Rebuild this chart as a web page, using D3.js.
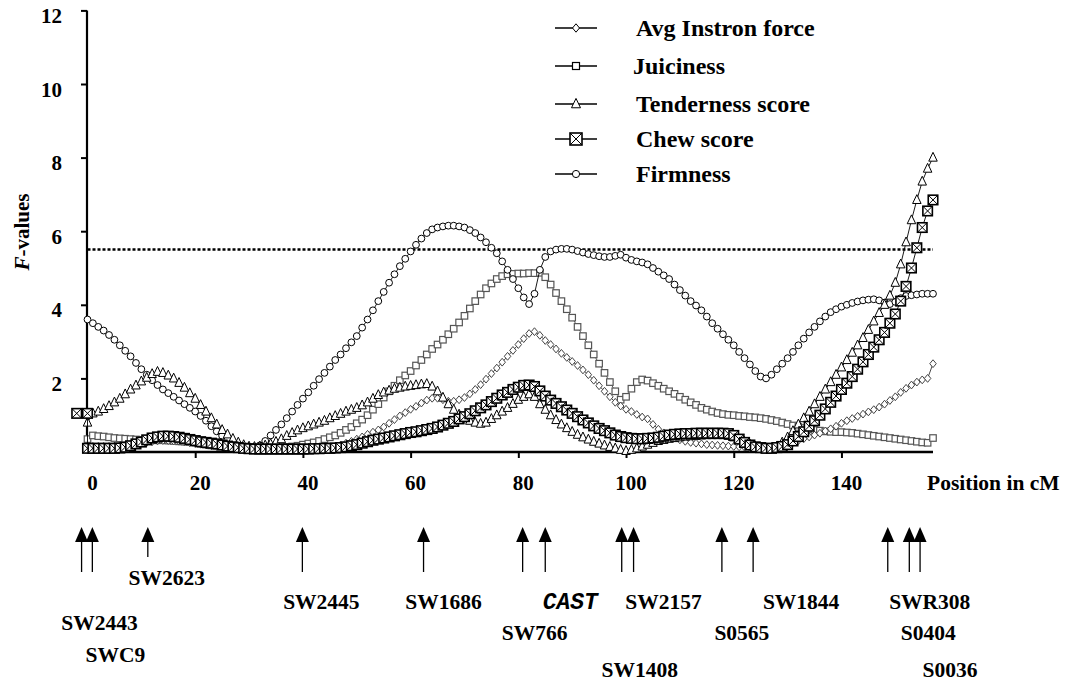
<!DOCTYPE html>
<html>
<head>
<meta charset="utf-8">
<script src="https://cdn.jsdelivr.net/npm/d3@7"></script>
<style>
  html, body { margin: 0; padding: 0; background: #fff; }
  svg text { font-family: "Liberation Serif", "Times New Roman", serif; font-weight: bold; fill: #000; }
</style>
</head>
<body>
<svg id="chart" width="1065" height="681"></svg>
<script>
// ---------------- DATA ----------------
const xTicks = [20, 40, 60, 80, 100, 120, 140];
const xTickLabels = ["0", "20", "40", "60", "80", "100", "120", "140"];
const yTicks = [2, 4, 6, 8, 10, 12];
const threshold = 5.5;

const seriesNames = ["Avg Instron force", "Juiciness", "Tenderness score", "Chew score", "Firmness"];

// values at 1 cM steps, 0 … 157 cM
const avgInstron = [0.15,0.15,0.15,0.15,0.15,0.16,0.17,0.18,0.20,0.22,0.24,0.26,0.28,0.30,0.31,0.31,0.30,0.29,0.27,0.25,
0.23,0.21,0.19,0.17,0.15,0.13,0.11,0.10,0.09,0.08,0.07,0.06,0.06,0.05,0.05,0.05,0.05,0.05,0.05,0.05,
0.05,0.06,0.07,0.08,0.10,0.12,0.15,0.19,0.24,0.29,0.35,0.41,0.48,0.54,0.60,0.68,0.78,0.88,0.98,1.07,
1.16,1.24,1.33,1.41,1.46,1.46,1.42,1.38,1.38,1.42,1.48,1.58,1.70,1.83,1.98,2.13,2.28,2.44,2.60,2.76,
2.92,3.08,3.22,3.27,3.17,3.03,2.92,2.80,2.68,2.57,2.46,2.35,2.23,2.10,1.95,1.80,1.65,1.50,1.35,1.25,
1.16,1.10,1.02,0.95,0.90,0.75,0.62,0.52,0.44,0.38,0.33,0.29,0.26,0.24,0.22,0.20,0.19,0.18,0.17,0.16,
0.15,0.14,0.13,0.12,0.11,0.11,0.11,0.12,0.14,0.17,0.21,0.26,0.31,0.36,0.41,0.46,0.51,0.57,0.63,0.70,
0.78,0.85,0.91,0.97,1.03,1.09,1.15,1.22,1.30,1.40,1.50,1.62,1.73,1.82,1.90,1.96,2.00,2.40];

const juiciness = [0.35,0.45,0.43,0.42,0.40,0.38,0.37,0.36,0.35,0.34,0.33,0.33,0.32,0.32,0.32,0.31,0.30,0.29,0.28,0.27,
0.25,0.22,0.20,0.18,0.17,0.15,0.14,0.13,0.12,0.11,0.10,0.10,0.09,0.09,0.10,0.11,0.12,0.13,0.15,0.17,
0.20,0.23,0.26,0.30,0.35,0.40,0.45,0.52,0.60,0.68,0.78,0.88,1.00,1.15,1.30,1.48,1.65,1.80,1.95,2.08,
2.20,2.35,2.50,2.65,2.80,2.92,3.05,3.20,3.35,3.52,3.70,3.90,4.10,4.28,4.45,4.58,4.70,4.78,4.83,4.84,
4.85,4.85,4.86,4.86,4.87,4.75,4.55,4.32,4.10,3.88,3.65,3.40,3.15,2.90,2.65,2.40,2.15,1.90,1.65,1.42,
1.50,1.72,1.90,1.97,1.94,1.87,1.80,1.72,1.65,1.58,1.50,1.42,1.35,1.28,1.20,1.15,1.10,1.06,1.03,1.01,
1.00,0.98,0.97,0.95,0.94,0.92,0.90,0.87,0.84,0.80,0.76,0.72,0.68,0.65,0.62,0.60,0.58,0.56,0.55,0.54,
0.54,0.53,0.52,0.50,0.48,0.46,0.44,0.42,0.40,0.38,0.36,0.34,0.32,0.30,0.28,0.26,0.25,0.38];

const tenderness = [0.80,1.05,1.10,1.17,1.25,1.35,1.45,1.57,1.70,1.81,1.92,2.02,2.12,2.18,2.15,2.08,2.00,1.88,1.75,1.60,
1.45,1.28,1.10,0.92,0.75,0.60,0.48,0.36,0.26,0.19,0.15,0.14,0.15,0.18,0.22,0.28,0.35,0.44,0.52,0.59,
0.65,0.70,0.75,0.80,0.85,0.92,0.98,1.04,1.10,1.15,1.20,1.27,1.35,1.45,1.55,1.62,1.67,1.72,1.75,1.78,
1.80,1.82,1.84,1.85,1.78,1.65,1.48,1.30,1.15,1.02,0.92,0.85,0.80,0.77,0.80,0.90,1.00,1.10,1.20,1.31,
1.42,1.50,1.57,1.50,1.30,1.15,1.00,0.87,0.75,0.65,0.55,0.47,0.40,0.34,0.28,0.23,0.18,0.14,0.10,0.06,
0.03,0.06,0.10,0.15,0.20,0.25,0.30,0.33,0.36,0.38,0.40,0.42,0.43,0.44,0.45,0.46,0.46,0.46,0.46,0.44,
0.40,0.34,0.28,0.21,0.15,0.11,0.08,0.09,0.15,0.26,0.40,0.57,0.75,0.92,1.10,1.30,1.50,1.70,1.90,2.10,
2.30,2.50,2.70,2.90,3.10,3.32,3.55,3.78,4.00,4.25,4.60,5.10,5.70,6.30,6.85,7.35,7.70,8.00];

// chew score: two leading points (-2 and 0 cM) then 0 … 157 cM
const chewLeadPos = [-2, 0];
const chewLead = [1.05, 1.05];
const chew = [0.10,0.10,0.10,0.10,0.10,0.10,0.11,0.13,0.17,0.22,0.27,0.33,0.38,0.41,0.43,0.43,0.42,0.40,0.37,0.34,
0.31,0.28,0.26,0.24,0.22,0.19,0.16,0.14,0.12,0.10,0.09,0.08,0.08,0.08,0.08,0.08,0.08,0.08,0.08,0.08,
0.08,0.08,0.09,0.09,0.10,0.10,0.11,0.12,0.14,0.17,0.20,0.24,0.28,0.32,0.35,0.38,0.41,0.44,0.47,0.50,
0.53,0.55,0.58,0.61,0.64,0.68,0.73,0.78,0.83,0.90,0.96,1.04,1.12,1.20,1.28,1.37,1.46,1.55,1.62,1.70,
1.76,1.81,1.82,1.78,1.66,1.52,1.41,1.32,1.23,1.14,1.05,0.96,0.87,0.79,0.71,0.64,0.58,0.52,0.46,0.42,
0.39,0.37,0.36,0.36,0.37,0.38,0.40,0.43,0.46,0.48,0.49,0.50,0.50,0.51,0.51,0.51,0.51,0.51,0.51,0.50,
0.45,0.35,0.26,0.19,0.14,0.12,0.10,0.10,0.12,0.15,0.20,0.30,0.42,0.55,0.70,0.85,1.00,1.17,1.35,1.52,
1.70,1.87,2.05,2.25,2.45,2.65,2.85,3.05,3.25,3.50,3.75,4.10,4.50,5.00,5.55,6.10,6.55,6.85];

const firmness = [3.60,3.50,3.40,3.30,3.18,3.05,2.90,2.75,2.60,2.42,2.25,2.10,1.95,1.82,1.70,1.60,1.50,1.40,1.30,1.20,
1.10,0.98,0.85,0.70,0.56,0.44,0.34,0.26,0.20,0.15,0.12,0.12,0.18,0.30,0.45,0.60,0.75,0.92,1.10,1.28,
1.45,1.62,1.80,1.98,2.15,2.32,2.50,2.65,2.82,2.98,3.15,3.38,3.60,3.85,4.10,4.35,4.60,4.83,5.05,5.25,
5.45,5.63,5.80,5.95,6.05,6.10,6.13,6.15,6.15,6.13,6.10,6.03,5.95,5.83,5.70,5.55,5.40,5.18,4.95,4.70,
4.45,4.20,4.02,4.30,4.95,5.30,5.45,5.50,5.52,5.52,5.50,5.46,5.42,5.38,5.35,5.32,5.30,5.30,5.33,5.36,
5.28,5.22,5.18,5.15,5.10,5.00,4.90,4.80,4.70,4.55,4.40,4.25,4.10,3.98,3.85,3.68,3.50,3.35,3.20,3.05,
2.90,2.72,2.55,2.38,2.20,2.05,2.00,2.10,2.25,2.40,2.55,2.72,2.90,3.08,3.25,3.40,3.55,3.68,3.80,3.88,
3.95,4.00,4.05,4.09,4.12,4.14,4.15,4.12,4.06,4.02,4.08,4.18,4.24,4.26,4.28,4.30,4.30,4.30];

// genetic markers (name, position in cM)
const markerNames = ["SW2443","SWC9","SW2623","SW2445","SW1686","SW766","CAST","SW1408","SW2157","S0565","SW1844","SWR308","S0404","S0036"];
const markerPos   = [-1.1, 0.9, 11.2, 39.9, 62.4, 80.8, 85.0, 99.2, 101.4, 117.8, 123.6, 148.6, 152.6, 154.6];

// ---------------- LAYOUT ----------------
// label placement for each marker: [dx from arrow, baseline y, stem end y]
const markerLayout = [[18,630,572],[23,662,572],[19,585,557],[19,609,572],[20,609,572],[12,640,572],[25,609,572],
  [18,677,572],[30,609,572],[20,640,572],[48,609,572],[42,609,572],[19,640,572],[30,677,572]];

const svg = d3.select("#chart");
const x = d3.scaleLinear().domain([0, 157]).range([87.5, 933]);
const y = d3.scaleLinear().domain([0, 12]).range([452, 10.4]);

const grid = d3.range(0, 158);
function pts(vals, pos) { return vals.map((v, i) => [pos[i], v]); }

// ---- axes ----
const yAxis = d3.axisLeft(y).tickValues(yTicks).tickSize(6).tickFormat(d3.format("d"));
const gy = svg.append("g").attr("transform", "translate(87,0)").call(yAxis);
gy.select(".domain").attr("d", `M0,${y(12)}V${y(0)}`).attr("stroke-width", 2.2).attr("stroke", "#000");
gy.selectAll(".tick line").attr("stroke-width", 2).attr("stroke", "#000");
gy.selectAll(".tick text").attr("x", -25).attr("dy", "0.62em").attr("y", -1)
  .style("font-size", "21px").style("font-family", '"Liberation Serif", serif').style("font-weight", "bold").attr("fill", "#000");

const xAxis = d3.axisBottom(x).tickValues(xTicks).tickSize(6).tickFormat("");
const gx = svg.append("g").attr("transform", "translate(0,452)").call(xAxis);
gx.select(".domain").attr("d", `M${x(0) - 1},0H${x(157)}`).attr("stroke-width", 2.6).attr("stroke", "#000");
gx.selectAll(".tick line").attr("stroke-width", 2).attr("stroke", "#000");

svg.append("g").selectAll("text").data([0].concat(xTicks)).join("text")
  .attr("x", d => x(d) + 5).attr("y", 490).attr("text-anchor", "middle")
  .style("font-size", "21px").text((d, i) => xTickLabels[i]);

svg.append("text").attr("x", 927).attr("y", 490).style("font-size", "21.5px").text("Position in cM");

const yt = svg.append("text").attr("transform", "translate(29,232) rotate(-90)").attr("text-anchor", "middle").style("font-size", "21px");
yt.append("tspan").style("font-style", "italic").text("F");
yt.append("tspan").text("-values");

svg.append("line").attr("x1", x(0)).attr("x2", x(157)).attr("y1", y(threshold)).attr("y2", y(threshold))
  .attr("stroke", "#000").attr("stroke-width", 2.5).attr("stroke-dasharray", "3,2");

// ---- marker symbols ----
function drawSym(g, type, size) {
  if (type === "circle") return g.append("circle").attr("r", size).attr("fill", "#fff").attr("stroke", "#000").attr("stroke-width", 1);
  if (type === "square") return g.append("rect").attr("x", -size/2).attr("y", -size/2).attr("width", size).attr("height", size)
      .attr("fill", "#fff").attr("stroke", "#555").attr("stroke-width", 1.2);
  if (type === "triangle") return g.append("path").attr("d", `M0,${-size*0.62}L${size/2},${size*0.42}L${-size/2},${size*0.42}Z`)
      .attr("fill", "#fff").attr("stroke", "#000").attr("stroke-width", 1);
  if (type === "diamond") return g.append("path").attr("d", `M0,${-size*0.6}L${size/2},0L0,${size*0.6}L${-size/2},0Z`)
      .attr("fill", "#fff").attr("stroke", "#444").attr("stroke-width", 1);
  if (type === "boxx") {
    const h = size / 2;
    g.append("rect").attr("x", -h).attr("y", -h).attr("width", size).attr("height", size)
      .attr("fill", "#fff").attr("stroke", "#000").attr("stroke-width", 1.6);
    g.append("path").attr("d", `M${-h},${-h}L${h},${h}M${h},${-h}L${-h},${h}`).attr("stroke", "#000").attr("stroke-width", 1);
  }
}

const series = [
  { name: seriesNames[1], data: pts(juiciness, grid), sym: "square", size: 6.5, line: "#444" },
  { name: seriesNames[0], data: pts(avgInstron, grid), sym: "diamond", size: 6.5, line: "#333" },
  { name: seriesNames[4], data: pts(firmness, grid), sym: "circle", size: 3.4, line: "#000" },
  { name: seriesNames[2], data: pts(tenderness, grid), sym: "triangle", size: 8.5, line: "#000" },
  { name: seriesNames[3], data: pts(chewLead, chewLeadPos).concat(pts(chew, grid)), sym: "boxx", size: 9.5, line: "#000" }
];

const line = d3.line().x(d => x(d[0])).y(d => y(d[1]));
const plot = svg.append("g");
series.forEach(s => {
  const g = plot.append("g");
  g.append("path").attr("d", line(s.data)).attr("fill", "none").attr("stroke", s.line).attr("stroke-width", 0.9);
  g.selectAll("g.m").data(s.data).join("g").attr("class", "m")
    .attr("transform", d => `translate(${x(d[0])},${y(d[1])})`)
    .each(function () { drawSym(d3.select(this), s.sym, s.size); });
});

// ---- legend ----
const legendSyms = [["diamond", 7], ["square", 7], ["triangle", 9], ["boxx", 12], ["circle", 3.6]];
const legendY = [28, 66, 104, 139, 174];
const legendTextX = [636, 633, 636, 636, 636];
const lg = svg.append("g");
seriesNames.forEach((n, i) => {
  const g = lg.append("g").attr("transform", `translate(0,${legendY[i]})`);
  g.append("line").attr("x1", 555).attr("x2", 597).attr("y1", 0).attr("y2", 0).attr("stroke", "#000").attr("stroke-width", 1.3);
  const m = g.append("g").attr("transform", "translate(576,0)");
  drawSym(m, legendSyms[i][0], legendSyms[i][1]);
  m.selectAll("rect,path,circle").attr("stroke", "#000");
  g.append("text").attr("x", legendTextX[i]).attr("y", 8).style("font-size", "24px").text(n);
});

// ---- genetic marker arrows ----
const mg = svg.append("g");
markerNames.forEach((n, i) => {
  const cx = x(markerPos[i]);
  const [dx, by, stemEnd] = markerLayout[i];
  mg.append("line").attr("x1", cx).attr("x2", cx).attr("y1", 538).attr("y2", stemEnd).attr("stroke", "#000").attr("stroke-width", 1.3);
  mg.append("path").attr("d", `M${cx},527L${cx + 6.5},542L${cx - 6.5},542Z`).attr("fill", "#000");
  const t = mg.append("text").attr("x", cx + dx).attr("y", by).attr("text-anchor", "middle").style("font-size", "21.5px").text(n);
  if (n === "CAST") t.style("font-family", '"Liberation Mono", "Courier New", monospace').style("font-style", "italic").style("font-size", "23px");
});
</script>
</body>
</html>
